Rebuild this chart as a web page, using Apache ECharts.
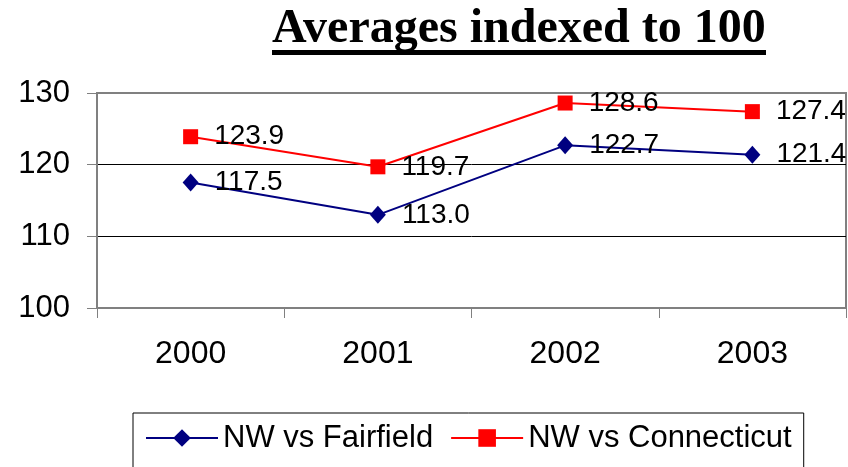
<!doctype html>
<html>
<head>
    <meta charset="utf-8">
    <title>Averages indexed to 100</title>
    <script src="https://cdn.jsdelivr.net/npm/echarts@6/dist/echarts.min.js"></script>
    <style>
        body{
            margin:0;
            padding:0;
            background:#fff;
        }
        #chart{
            width:848px;
            height:467px;
        }
    </style>
</head>
<body>
<div id="chart"></div>
<script>
    var years = ['2000', '2001', '2002', '2003'];
    var fairfield = [117.5, 113.0, 122.7, 121.4];
    var connecticut = [123.9, 119.7, 128.6, 127.4];
    var yTicks = [100, 110, 120, 130];

    var font = 'Arial, "Liberation Sans", sans-serif';

    var myChart = echarts.init(document.getElementById('chart'));
    var option = {
        backgroundColor: '#fff',
        animation: false,
        title: {
            text: 'Averages indexed to 100',
            left: 272,
            top: 6,
            padding: 0,
            textStyle: {
                fontFamily: '"Times New Roman", "Liberation Serif", serif',
                fontWeight: 'bold',
                fontSize: 48,
                color: '#000'
            }
        },
        // underline under the title
        graphic: [
            {
                type: 'rect',
                left: 272,
                top: 50,
                shape: { width: 494, height: 5 },
                style: { fill: '#000' }
            }
        ],
        legend: {
            left: 133,
            top: 413,
            padding: [8, 12, 20, 12],
            borderColor: '#000',
            borderWidth: 1,
            itemWidth: 72,
            itemHeight: 22,
            itemGap: 17,
            textStyle: {
                fontFamily: font,
                fontSize: 31,
                lineHeight: 34,
                color: '#000'
            },
            data: ['NW vs Fairfield', 'NW vs Connecticut']
        },
        grid: {
            left: 97,
            right: 2,
            top: 93,
            bottom: 159,
            show: true,
            borderColor: '#808080',
            borderWidth: 2
        },
        xAxis: {
            type: 'category',
            data: years,
            boundaryGap: true,
            axisLine: { lineStyle: { color: '#808080', width: 2 } },
            axisTick: { show: true, length: 10, lineStyle: { color: '#808080', width: 1 } },
            axisLabel: {
                margin: 30,
                fontFamily: font,
                fontSize: 32,
                color: '#000'
            }
        },
        yAxis: {
            type: 'value',
            min: yTicks[0],
            max: yTicks[yTicks.length - 1],
            interval: 10,
            axisLine: { show: true, lineStyle: { color: '#808080', width: 2 } },
            axisTick: { show: true, length: 10, lineStyle: { color: '#808080', width: 1 } },
            axisLabel: {
                margin: 27,
                fontFamily: font,
                fontSize: 31,
                color: '#000'
            },
            splitLine: {
                lineStyle: { color: ['#808080', '#000', '#000', '#808080'], width: 1 }
            }
        },
        series: [
            {
                name: 'NW vs Fairfield',
                type: 'line',
                data: fairfield,
                symbol: 'diamond',
                symbolSize: [16, 18],
                color: '#000080',
                lineStyle: { width: 2, color: '#000080' },
                itemStyle: { color: '#000080' },
                label: {
                    show: true,
                    position: 'right',
                    distance: 16,
                    fontFamily: font,
                    fontSize: 28,
                    color: '#000',
                    formatter: function (p) { return p.value.toFixed(1); }
                }
            },
            {
                name: 'NW vs Connecticut',
                type: 'line',
                data: connecticut,
                symbol: 'rect',
                symbolSize: 15,
                color: '#ff0000',
                lineStyle: { width: 2, color: '#ff0000' },
                itemStyle: { color: '#ff0000' },
                label: {
                    show: true,
                    position: 'right',
                    distance: 16,
                    fontFamily: font,
                    fontSize: 28,
                    color: '#000',
                    formatter: function (p) { return p.value.toFixed(1); }
                }
            }
        ]
    };
    myChart.setOption(option, true);
</script>
</body>
</html>
